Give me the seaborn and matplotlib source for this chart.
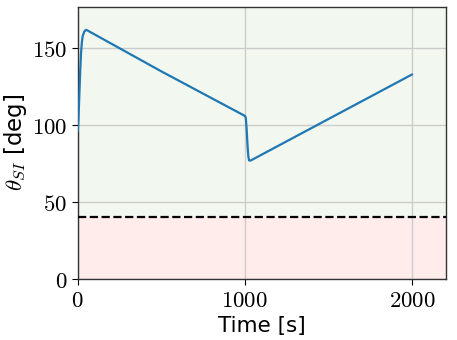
import numpy as np
import pandas as pd
import matplotlib
matplotlib.use("Agg")
import matplotlib.pyplot as plt
import seaborn as sns
from matplotlib.ticker import FuncFormatter

# curve
time_s = [0, 5, 10, 15, 20, 25, 30, 40, 50, 60, 500, 1000, 1005, 1010, 1015, 1020, 1025, 1035, 1500, 2000]
theta_deg = [96, 105, 120, 135, 147, 154, 158, 161, 162, 161.5, 135, 106, 105, 98, 88, 80, 77, 77, 104, 133]
threshold = 40

df = pd.DataFrame({"t": time_s, "theta": theta_deg})

sns.set_style("white")
plt.rcParams["mathtext.fontset"] = "cm"
plt.rcParams["font.family"] = ["DejaVu Sans"]
plt.rcParams["text.color"] = "black"
plt.rcParams["axes.labelcolor"] = "black"
plt.rcParams["xtick.color"] = "black"
plt.rcParams["ytick.color"] = "black"

fig, ax = plt.subplots(figsize=(4.57, 3.4), dpi=100)
ax.axhspan(threshold, 200, color="#f2f8ef", zorder=0)
ax.axhspan(0, threshold, color="#ffeceb", zorder=0)
ax.grid(True, color="#cccccc", lw=1, zorder=1)
ax.set_axisbelow(True)
sns.lineplot(data=df, x="t", y="theta", ax=ax, color="#1f77b4", lw=1.6, zorder=3)
ax.axhline(threshold, color="black", ls="--", lw=1.6, zorder=4)

ax.set_xlim(0, 2200)
ax.set_ylim(0, 177)
ax.set_xticks([0, 1000, 2000])
ax.set_yticks([0, 50, 100, 150])
fmt = FuncFormatter(lambda v, p: r"$%d$" % v)
ax.xaxis.set_major_formatter(fmt)
ax.yaxis.set_major_formatter(fmt)
ax.tick_params(labelsize=16.5, length=4, direction="out", left=True, bottom=True)
ax.set_xlabel("Time [s]", fontsize=15.5, labelpad=3)
ax.set_ylabel(r"$\theta_{SI}$ [deg]", fontsize=16.5, labelpad=2)
for s in ax.spines.values():
    s.set_color("#333333")
    s.set_linewidth(1)

fig.subplots_adjust(left=0.17, right=0.975, top=0.98, bottom=0.18)
fig.savefig("out.png", dpi=100)
